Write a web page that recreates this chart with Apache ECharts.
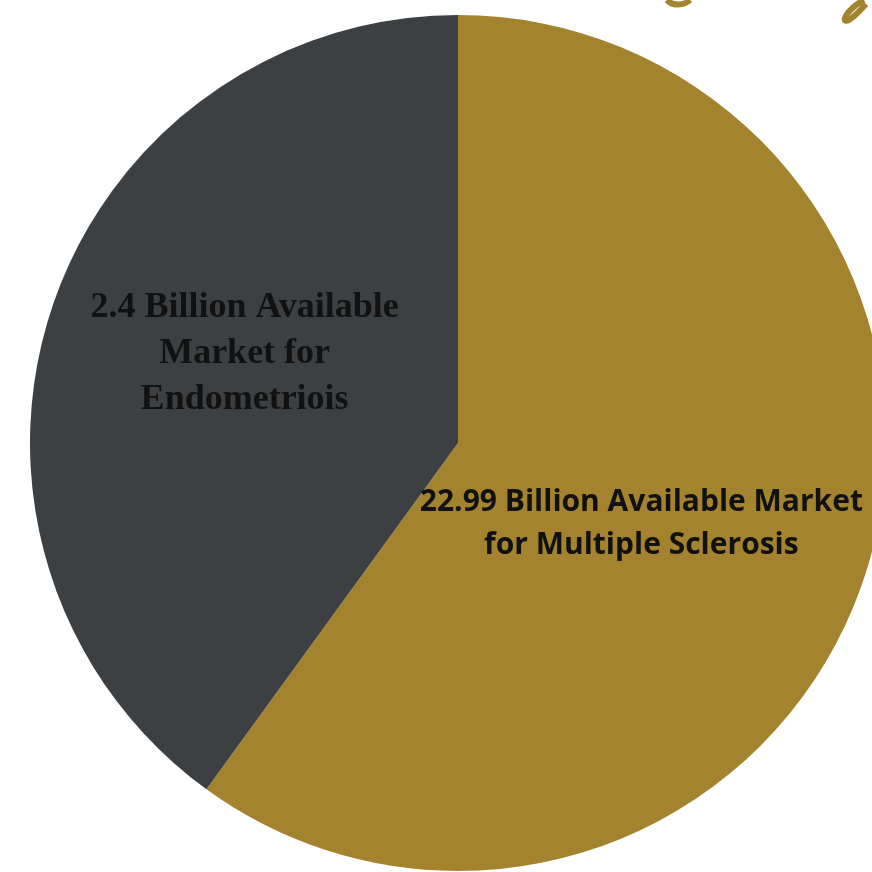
<!DOCTYPE html>
<html>
<head>
<meta charset="utf-8">
<script src="https://cdn.jsdelivr.net/npm/echarts@6/dist/echarts.min.js"></script>
<style>
html,body{margin:0;padding:0;background:#fff;}
#c{width:872px;height:872px;}
</style>
</head>
<body>
<div id="c"></div>
<script>
const categories = ['22.99 Billion Available Market\nfor Multiple Sclerosis', '2.4 Billion Available\nMarket for\nEndometriois'];
const shares = [60, 40];
const colors = ['#A3832D', '#3D4043'];

const chart = echarts.init(document.getElementById('c'), null, {renderer: 'canvas'});
const data = categories.map((name, i) => ({
  name: name,
  value: shares[i],
  itemStyle: {color: colors[i]},
  label: i === 0 ? {
    fontFamily: '"Open Sans", sans-serif',
    fontWeight: 'bold',
    fontSize: 30,
    lineHeight: 43,
    offset: [-23, 14]
  } : {
    fontFamily: '"Liberation Serif", serif',
    fontWeight: 'bold',
    fontSize: 36,
    lineHeight: 46,
    offset: [-7, -22]
  }
}));

chart.setOption({
  animation: false,
  backgroundColor: '#ffffff',
  graphic: [
    {type: 'bezierCurve', shape: {x1: 667, y1: 0, cpx1: 672, cpy1: 6, cpx2: 684, cpy2: 6, x2: 690, y2: 0}, style: {stroke: '#A3832D', lineWidth: 6, fill: null}},
    {type: 'bezierCurve', shape: {x1: 864, y1: 0, cpx1: 840, cpy1: 12, cpx2: 836, cpy2: 38, x2: 866, y2: 4}, style: {stroke: '#A3832D', lineWidth: 6, fill: null}}
  ],
  series: [{
    type: 'pie',
    center: [458, 443],
    radius: [0, 428],
    startAngle: 90,
    clockwise: true,
    avoidLabelOverlap: false,
    itemStyle: {borderWidth: 0},
    label: {show: true, position: 'inside', color: '#111111', formatter: '{b}', align: 'center'},
    labelLine: {show: false},
    emphasis: {disabled: true},
    data: data
  }]
});
</script>
</body>
</html>
